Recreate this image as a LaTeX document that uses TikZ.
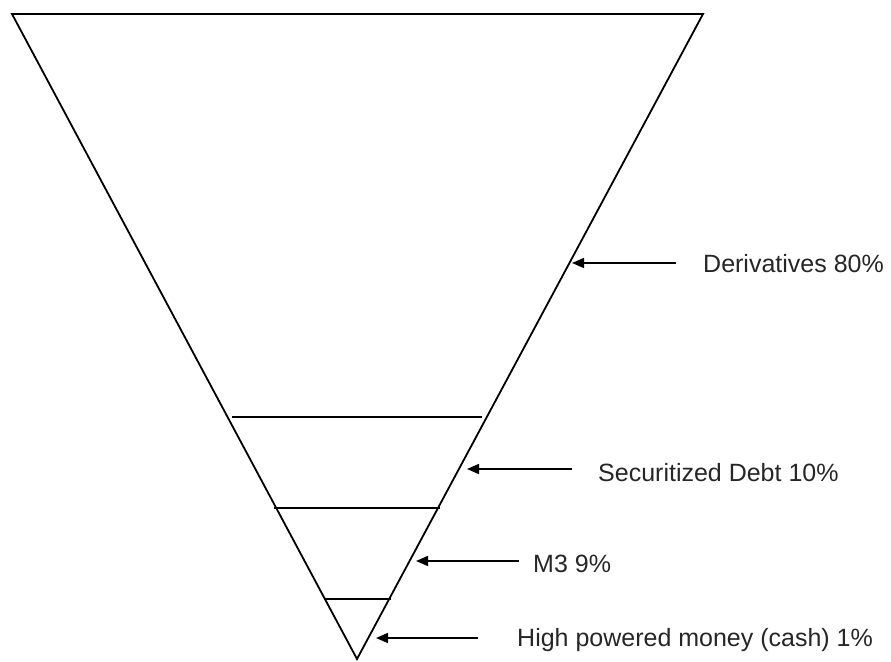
\documentclass[tikz,border=0pt]{standalone}
\usepackage{fontspec}
\setmainfont{Liberation Sans}
\usetikzlibrary{arrows.meta}
\begin{document}
\begin{tikzpicture}[x=1pt,y=-1pt,
  edge/.style={line width=1.8pt,line join=miter},
  level/.style={line width=1.8pt},
  pointer/.style={line width=1.6pt,-{Triangle[length=12pt,width=10pt]}},
  label/.style={anchor=base west,inner sep=0pt,font=\fontsize{25}{30}\selectfont,text=black!85}]
\useasboundingbox (0,0) rectangle (891,661);
% triangle
\coordinate (tl) at (12,14);
\coordinate (tr) at (703,14);
\coordinate (ap) at (357,659);
\draw[edge] (tl) -- (tr) -- (ap) -- cycle;
% levels
\coordinate (l1a) at (232,417); \coordinate (l1b) at (482,417);
\coordinate (l2a) at (274,508); \coordinate (l2b) at (440,508);
\coordinate (l3a) at (324,599); \coordinate (l3b) at (391,599);
\draw[level] (l1a) -- (l1b);
\draw[level] (l2a) -- (l2b);
\draw[level] (l3a) -- (l3b);
% labels
\node[label] (deriv) at (703,272) {Derivatives 80\%};
\node[label] (sec) at (598,481) {Securitized Debt 10\%};
\node[label] (m3) at (533,572) {M3 9\%};
\node[label] (cash) at (517,646) {High powered money (cash) 1\%};
% arrows
\coordinate (d0) at (676,263); \coordinate (d1) at (572,263);
\coordinate (s0) at (572,469); \coordinate (s1) at (467,469);
\coordinate (m0) at (519,561); \coordinate (m1) at (416,561);
\coordinate (c0) at (478,638); \coordinate (c1) at (376,638);
\draw[pointer] (d0) -- (d1);
\draw[pointer] (s0) -- (s1);
\draw[pointer] (m0) -- (m1);
\draw[pointer] (c0) -- (c1);
\end{tikzpicture}
\end{document}
